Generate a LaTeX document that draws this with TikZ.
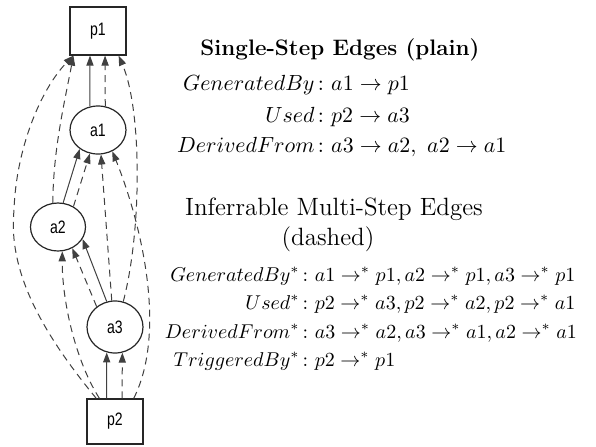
\documentclass[tikz,border=0pt]{standalone}
\usepackage{fontspec}
\usepackage{amsmath}
\newfontfamily\lblfont[FakeStretch=0.78]{Liberation Sans}
\usetikzlibrary{arrows.meta,shapes.geometric}
\begin{document}
\begin{tikzpicture}[x=0.5pt,y=-0.5pt,
  lbl/.style={font=\lblfont\fontsize{9}{10}\selectfont, inner sep=0pt, line width=0.6pt, draw=black!85},
  box/.style={lbl, rectangle, minimum width=28pt},
  ell/.style={lbl, ellipse},
  edge/.style={draw=black!75, line width=0.5pt, -{Triangle[length=5pt,width=3.6pt]}},
  inf/.style={edge, dash pattern=on 3.5pt off 2.5pt},
  mth/.style={inner sep=0pt, font=\fontsize{11}{13}\selectfont},
  mtb/.style={inner sep=0pt, font=\fontsize{10.4}{13}\selectfont},
  ttl/.style={inner sep=0pt, anchor=base},
]
\useasboundingbox (0,0) rectangle (596,446);
% nodes
\node[box, minimum height=24pt] (p1) at (98,31) {p1};
\node[ell, minimum width=28pt, minimum height=24pt] (a1) at (98,130) {a1};
\node[ell, minimum width=27.5pt, minimum height=24pt] (a2) at (58,227) {a2};
\node[ell, minimum width=28pt, minimum height=26pt] (a3) at (115,327) {a3};
\node[box, minimum height=22.5pt] (p2) at (115,421.5) {p2};
% edges into p1
\draw[edge] (a1.109) -- (p1.252);
\draw[inf] (a1.73) -- (p1.286);
\draw[inf] (a2.102) .. controls (53,150) and (65,100) .. (p1.225);
\draw[inf] (p2.129) .. controls (40,330) and (8,270) .. (14,210) .. controls (16,150) and (40,90) .. (p1.225);
\draw[inf] (a3.72) .. controls (142,230) and (142,110) .. (p1.310);
% edges into a1
\draw[edge] (a2.78) -- (a1.226);
\draw[inf] (a2.53) -- (a1.251);
\draw[inf] (a3.97) -- (a1.277);
\draw[inf] (p2.51) .. controls (168,330) and (140,220) .. (a1.304);
% edges into a2
\draw[edge] (a3.108) -- (a2.334);
\draw[inf] (a3.132) -- (a2.304);
\draw[inf] (p2.124) .. controls (75,360) and (62,300) .. (a2.280);
% edges into a3
\draw[edge] (p2.110) -- (a3.252);
\draw[inf] (p2.73) -- (a3.286);
% text block 1
\node[ttl, font=\bfseries\fontsize{11.2}{13}\selectfont] (t1) at (340,55) {Single-Step Edges (plain)};
\node[mth, anchor=base east] (l1) at (315,90) {$GeneratedBy$};
\node[mth, anchor=base west] (r1) at (315,90) {${}\colon a1 \rightarrow p1$};
\node[mth, anchor=base east] (l2) at (315,122) {$Used$};
\node[mth, anchor=base west] (r2) at (315,122) {${}\colon p2 \rightarrow a3$};
\node[mth, anchor=base east] (l3) at (315,152) {$DerivedFrom$};
\node[mth, anchor=base west] (r3) at (315,152) {${}\colon a3 \rightarrow a2,\ a2 \rightarrow a1$};
% text block 2
\node[ttl, font=\fontsize{12.5}{14}\selectfont] (t2) at (334,215) {Inferrable Multi-Step Edges};
\node[ttl, font=\fontsize{12.5}{14}\selectfont] (t3) at (328,245) {(dashed)};
\node[mtb, anchor=base east] (m1) at (300,281) {$GeneratedBy^{*}$};
\node[mtb, anchor=base west] (n1) at (300,281) {${}\colon a1 \rightarrow^{*} p1, a2 \rightarrow^{*} p1, a3 \rightarrow^{*} p1$};
\node[mtb, anchor=base east] (m2) at (300,309) {$Used^{*}$};
\node[mtb, anchor=base west] (n2) at (300,309) {${}\colon p2 \rightarrow^{*} a3, p2 \rightarrow^{*} a2, p2 \rightarrow^{*} a1$};
\node[mtb, anchor=base east] (m3) at (300,338) {$DerivedFrom^{*}$};
\node[mtb, anchor=base west] (n3) at (300,338) {${}\colon a3 \rightarrow^{*} a2, a3 \rightarrow^{*} a1, a2 \rightarrow^{*} a1$};
\node[mtb, anchor=base east] (m4) at (300,366) {$TriggeredBy^{*}$};
\node[mtb, anchor=base west] (n4) at (300,366) {${}\colon p2 \rightarrow^{*} p1$};
\end{tikzpicture}
\end{document}
